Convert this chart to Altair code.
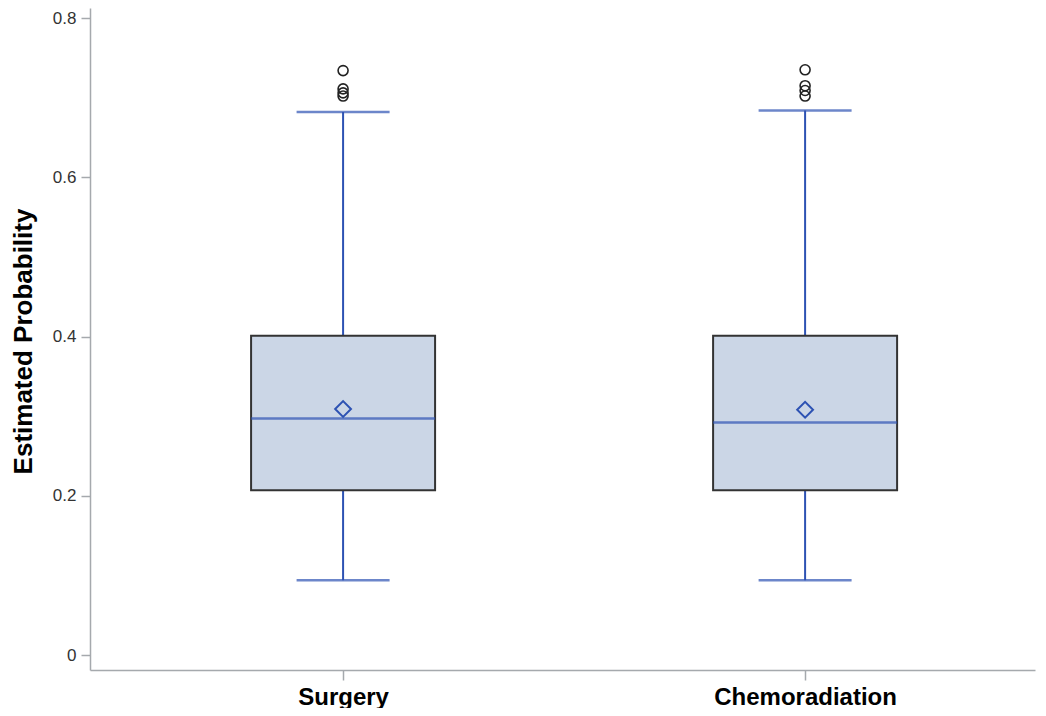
import altair as alt
import pandas as pd

groups = ["Surgery", "Chemoradiation"]
q1 = [0.207, 0.207]
q3 = [0.401, 0.401]
median = [0.297, 0.292]
mean = [0.309, 0.308]
whisker_low = [0.094, 0.094]
whisker_high = [0.682, 0.684]
outlier_group = ["Surgery"] * 4 + ["Chemoradiation"] * 4
outlier_value = [0.734, 0.711, 0.706, 0.702, 0.735, 0.715, 0.709, 0.702]
y_ticks = [0, 0.2, 0.4, 0.6, 0.8]

stats = pd.DataFrame({
    "group": groups, "q1": q1, "q3": q3, "median": median, "mean": mean,
    "low": whisker_low, "high": whisker_high,
})
outliers = pd.DataFrame({"group": outlier_group, "value": outlier_value})

BLUE = "#2d52b3"
FILL = "#cbd6e6"
AXIS_GRAY = "#a5a9ad"
FONT = "Liberation Sans"

x_scale = alt.Scale(type="point", padding=0.5227, align=0.524)
x_enc = alt.X(
    "group:N", sort=groups, title=None, scale=x_scale,
    axis=alt.Axis(labelFontSize=24, labelFontWeight="bold", labelColor="#000000",
                  labelFont=FONT, tickSize=10, tickColor=AXIS_GRAY, tickWidth=1.5,
                  labelPadding=5, domainColor=AXIS_GRAY, domainWidth=1.5,
                  grid=False, labelAngle=0, labelLimit=400),
)
y_scale = alt.Scale(domain=[-0.0188, 0.8126], nice=False, zero=False)
y_axis = alt.Axis(values=y_ticks, format="~g", grid=False, tickSize=9,
                  tickColor=AXIS_GRAY, tickWidth=1.5, domainColor=AXIS_GRAY,
                  domainWidth=1.5, labelFontSize=17, labelColor="#333333",
                  labelFont=FONT, labelPadding=5,
                  title="Estimated Probability", titleFont=FONT, titleFontSize=26,
                  titleFontWeight="bold", titleColor="#000000",
                  titleX=-67, titleY=333, titleAlign="center",
                  titleBaseline="middle", titleAngle=270, titleLimit=600)

base = alt.Chart(stats).encode(x=x_enc)

whisker = base.mark_rule(color=BLUE, strokeWidth=2).encode(
    y=alt.Y("low:Q", scale=y_scale, axis=y_axis), y2="high:Q")
box = base.mark_bar(size=184, fill=FILL, stroke="#333333", strokeWidth=2).encode(
    y=alt.Y("q1:Q", scale=y_scale), y2="q3:Q")
med = base.mark_tick(size=184, thickness=2.5, color=BLUE).encode(
    y=alt.Y("median:Q", scale=y_scale))
cap_low = base.mark_tick(size=93, thickness=2.5, color=BLUE).encode(
    y=alt.Y("low:Q", scale=y_scale))
cap_high = base.mark_tick(size=93, thickness=2.5, color=BLUE).encode(
    y=alt.Y("high:Q", scale=y_scale))
mean_pt = base.mark_point(shape="diamond", size=250, filled=False, color=BLUE,
                          strokeWidth=2, opacity=1).encode(
    y=alt.Y("mean:Q", scale=y_scale))
out_pt = alt.Chart(outliers).mark_point(shape="circle", size=100, filled=False,
                                        color="#222222", strokeWidth=1.6,
                                        opacity=1).encode(
    x=alt.X("group:N", sort=groups, scale=x_scale),
    y=alt.Y("value:Q", scale=y_scale))

chart = alt.layer(whisker, box, med, cap_low, cap_high, mean_pt, out_pt).properties(
    width=945, height=662,
    autosize=alt.AutoSizeParams(type="none"),
    padding={"left": 82, "top": 0, "right": 3, "bottom": 38},
    background="white",
).configure_view(stroke=None, strokeWidth=0)

chart.save("out.html", embed_options={"renderer": "svg", "actions": False})
